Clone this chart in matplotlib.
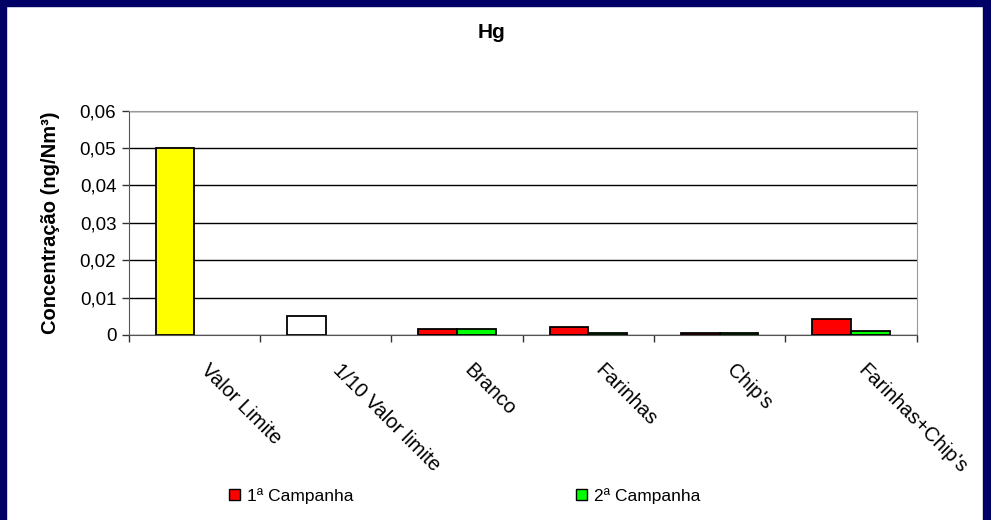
import numpy as np
import matplotlib.pyplot as plt
from matplotlib.patches import Rectangle, Patch
from matplotlib.ticker import FuncFormatter, FixedLocator

plt.rcParams['font.family'] = ['Liberation Sans', 'DejaVu Sans']

categorias = ["Valor Limite", "1/10 Valor limite", "Branco", "Farinhas", "Chip's", "Farinhas+Chip's"]
campanha1 = [0.05, 0.005, 0.0015, 0.002, 0.0005, 0.0042]
campanha2 = [np.nan, np.nan, 0.0015, 0.0005, 0.0005, 0.001]
cores1 = ["#ffff00", "#ffffff", "#ff0000", "#ff0000", "#ff0000", "#ff0000"]
cor2 = "#00ff00"
yticks = [0, 0.01, 0.02, 0.03, 0.04, 0.05, 0.06]

fig = plt.figure(figsize=(9.91, 5.2), dpi=100)
ax = fig.add_axes([0.130, 0.356, 0.795, 0.431])

x = np.arange(len(categorias))
w = 0.294
ax.bar(x - w / 2, campanha1, w, color=cores1, edgecolor="black", linewidth=1.3, zorder=3)
ok = ~np.isnan(campanha2)
ax.bar(x[ok] + w / 2, np.array(campanha2)[ok], w, color=cor2, edgecolor="black", linewidth=1.3, zorder=3)

ax.set_xlim(-0.5, len(categorias) - 0.5)
ax.set_ylim(0, 0.06)
ax.set_yticks(yticks)
ax.yaxis.set_major_formatter(FuncFormatter(lambda v, p: "0" if v == 0 else f"{v:.2f}".replace(".", ",")))
ax.grid(axis="y", color="black", linewidth=1.0, zorder=0)
ax.tick_params(axis="y", length=5, width=1, color="#333333", labelsize=13.5, pad=4)

ax.set_xticks(x)
ax.set_xticklabels([])
ax.xaxis.set_minor_locator(FixedLocator(np.arange(-0.5, len(categorias), 1.0)))
ax.tick_params(axis="x", which="major", length=0)
ax.tick_params(axis="x", which="minor", length=5, width=1, color="#333333")
for xi, nome in zip(x, categorias):
    ax.annotate(nome, xy=(xi, 0), xycoords=("data", "axes fraction"), xytext=(7, -23),
                textcoords="offset points", rotation=-45, rotation_mode="anchor",
                ha="left", va="center", fontsize=14.5)

for s in ["top", "right"]:
    ax.spines[s].set_color("#999999")
ax.spines["left"].set_color("#555555")
ax.spines["bottom"].set_color("#555555")

ax.set_ylabel("Concentração (ng/Nm³)", fontsize=14.5, fontweight="bold", labelpad=14)
fig.text(0.496, 0.938, "Hg", ha="center", va="center", fontsize=15, fontweight="bold")

handles = [Patch(facecolor="#ff0000", edgecolor="black"), Patch(facecolor=cor2, edgecolor="black")]
fig.legend(handles, ["1ª Campanha", "2ª Campanha"], loc="center", bbox_to_anchor=(0.469, 0.047),
           ncol=2, frameon=False, fontsize=12.5, handlelength=0.65, handleheight=0.65,
           handletextpad=0.4, columnspacing=12.8)

# moldura azul escura
navy = "#000066"
fig.patches.append(Rectangle((0, 0), 6 / 991, 1, transform=fig.transFigure, color=navy, zorder=10))
fig.patches.append(Rectangle((1 - 8 / 991, 0), 8 / 991, 1, transform=fig.transFigure, color=navy, zorder=10))
fig.patches.append(Rectangle((0, 1 - 6 / 520), 1, 6 / 520, transform=fig.transFigure, color=navy, zorder=10))

fig.savefig("out.png", dpi=100)
